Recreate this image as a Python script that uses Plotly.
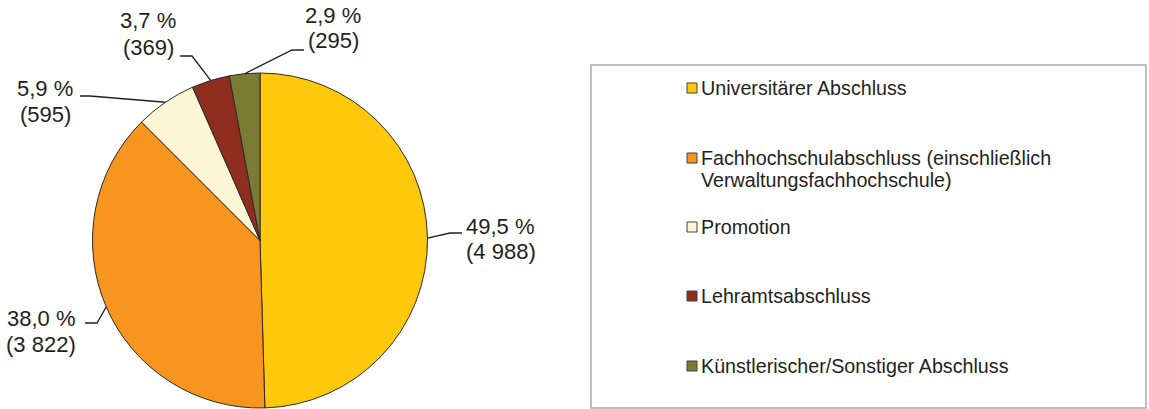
import math
import plotly.graph_objects as go

# ---------------- data ----------------
categories = [
    "Universitärer Abschluss",
    "Fachhochschulabschluss (einschließlich Verwaltungsfachhochschule)",
    "Promotion",
    "Lehramtsabschluss",
    "Künstlerischer/Sonstiger Abschluss",
]
legend_lines = [
    ["Universitärer Abschluss"],
    ["Fachhochschulabschluss (einschließlich", "Verwaltungsfachhochschule)"],
    ["Promotion"],
    ["Lehramtsabschluss"],
    ["Künstlerischer/Sonstiger Abschluss"],
]
values = [4988, 3822, 595, 369, 295]
colors = ["#FDC90A", "#F7951F", "#FEF7D5", "#8F2D1F", "#7B7C34"]

# ---------------- layout constants (pixels) ----------------
W, H = 1149, 409
CX, CY, R = 260, 240.5, 167.5
# label: (x, y of first line, xanchor)
label_anchor = [(464, 226, "left"), (78, 318, "right"), (45, 88, "center"),
                (148, 21, "center"), (333, 15, "center")]
label_line_gap = 26
leader_elbow = [(450, 233), (97, 323), (90, 96), (192, 56), (292, 50)]
leader_end = [(462, 233), (85, 323), (80, 96), (180, 56), (304, 50)]
legend_box = (591, 65, 1146, 408)
legend_item_y = [88, 158, 227, 296, 366]
legend_line_gap = 22
swatch_x0, swatch_x1, swatch_h = 687, 697, 10
legend_text_x = 699
TEXT_COLOR = "#231F20"
FONT = "Liberation Sans, Arial, sans-serif"


def px(x):
    return x / W


def py(y):
    return 1 - y / H


total = sum(values)


def fmt_pct(v):
    return f"{100 * v / total:.1f}".replace(".", ",") + " %"


def fmt_cnt(v):
    return "(" + f"{v:,}".replace(",", " ") + ")"


fig = go.Figure(go.Pie(
    labels=categories,
    values=values,
    sort=False,
    direction="clockwise",
    rotation=0,
    marker=dict(colors=colors, line=dict(color="#2A2A2A", width=1)),
    textinfo="none",
    showlegend=False,
    domain=dict(x=[px(CX - R), px(CX + R)], y=[py(CY + R), py(CY - R)]),
))

shapes = []
annotations = []

# labels with leader lines
cum = 0
for i, v in enumerate(values):
    mid = 2 * math.pi * (cum + v / 2) / total
    cum += v
    sx = CX + R * math.sin(mid)
    sy = CY - R * math.cos(mid)
    ex, ey = leader_elbow[i]
    tx, ty = leader_end[i]
    shapes.append(dict(
        type="path", xref="paper", yref="paper",
        path=f"M {px(sx)},{py(sy)} L {px(ex)},{py(ey)} L {px(tx)},{py(ty)}",
        line=dict(color="#231F20", width=1.3),
    ))
    lx, ly, anc = label_anchor[i]
    for j, txt in enumerate([fmt_pct(v), fmt_cnt(v)]):
        annotations.append(dict(
            x=px(lx), y=py(ly + j * label_line_gap), xref="paper", yref="paper",
            xanchor=anc, yanchor="middle", align="center", showarrow=False,
            text=txt,
            font=dict(family=FONT, size=22, color=TEXT_COLOR),
        ))

# legend box
x0, y0, x1, y1 = legend_box
shapes.append(dict(type="rect", xref="paper", yref="paper",
                   x0=px(x0), x1=px(x1), y0=py(y1), y1=py(y0),
                   line=dict(color="#ABABAB", width=1.5), fillcolor="rgba(0,0,0,0)"))

for i, lines in enumerate(legend_lines):
    yc = legend_item_y[i]
    shapes.append(dict(type="rect", xref="paper", yref="paper",
                       x0=px(swatch_x0), x1=px(swatch_x1),
                       y0=py(yc + swatch_h / 2), y1=py(yc - swatch_h / 2),
                       fillcolor=colors[i], line=dict(color="#404040", width=1)))
    for j, line in enumerate(lines):
        annotations.append(dict(
            x=px(legend_text_x), y=py(yc + j * legend_line_gap),
            xref="paper", yref="paper", xanchor="left", yanchor="middle",
            showarrow=False, text=line,
            font=dict(family=FONT, size=19.7, color=TEXT_COLOR),
        ))

fig.update_layout(
    width=W, height=H,
    margin=dict(l=0, r=0, t=0, b=0),
    paper_bgcolor="white", plot_bgcolor="white",
    shapes=shapes, annotations=annotations,
)

fig.write_html(
    "out.html",
    config={"displayModeBar": False},
    post_script="document.body.style.margin='0';document.body.style.padding='0';"
                "document.body.style.overflow='hidden';",
)
